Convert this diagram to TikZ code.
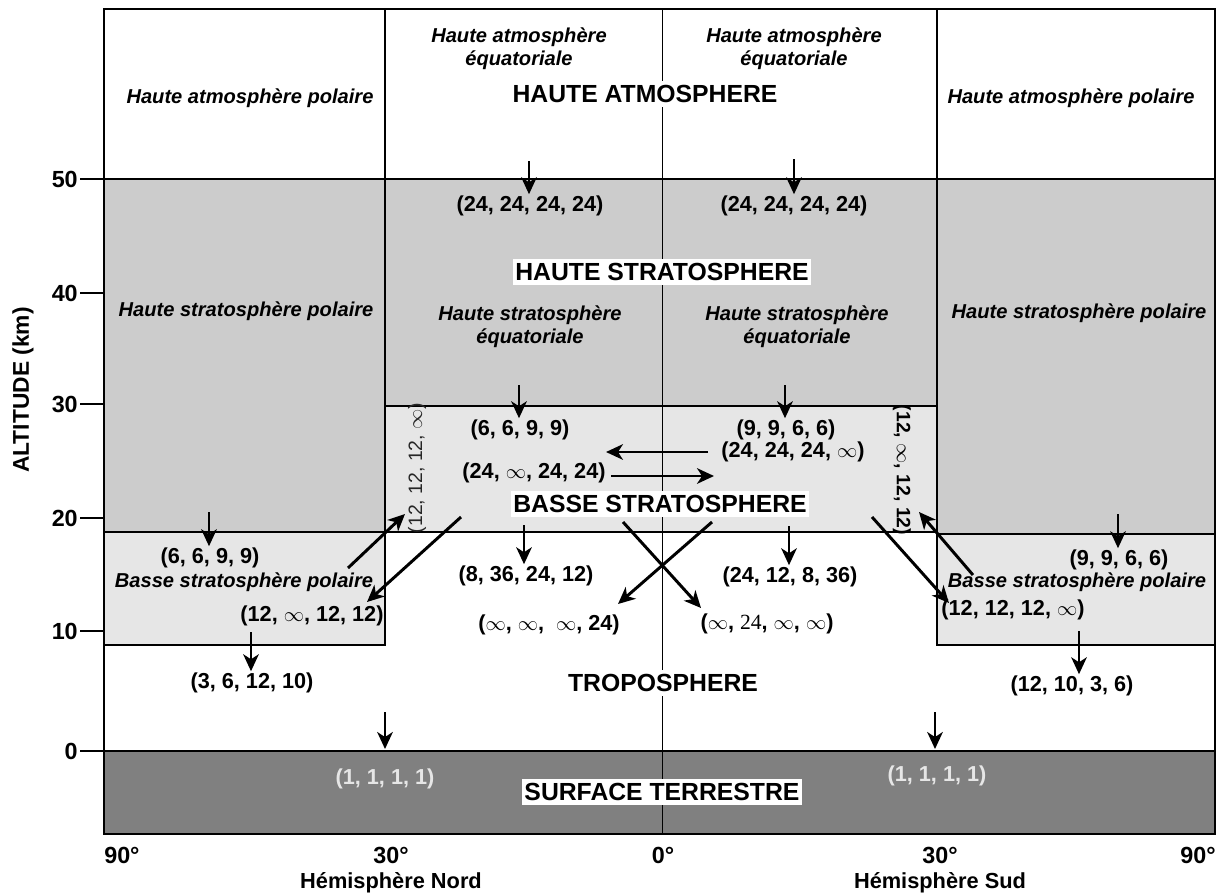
\documentclass[tikz,border=0pt]{standalone}
\usepackage{fontspec}
\setmainfont{Liberation Sans}
\newfontfamily\serifnum{Liberation Serif}
\usepackage{tikz}
\usetikzlibrary{arrows.meta, positioning}

\definecolor{hautegris}{HTML}{CCCCCC}
\definecolor{bassegris}{HTML}{E6E6E6}
\definecolor{solgris}{HTML}{808080}

\tikzstyle{zone} = [draw=black, line width=1pt]
\tikzstyle{flow} = [
    line width=2.1pt,
    -{Stealth[length=12pt, width=11pt, inset=3.5pt]}
]
\tikzstyle{value} = [font=\bfseries\fontsize{15.4}{18}\selectfont, inner sep=1pt]
\tikzstyle{sidevalue} = [font=\fontsize{13.8}{16}\selectfont, inner sep=1pt]
\tikzstyle{region} = [
    font=\bfseries\itshape\fontsize{14.3}{16.4}\selectfont,
    align=center,
    inner sep=0pt
]
\tikzstyle{layer} = [
    font=\bfseries\fontsize{17.6}{20}\selectfont,
    fill=white,
    inner xsep=1.5pt,
    inner ysep=3.2pt
]
\tikzstyle{axis} = [font=\bfseries\fontsize{16.6}{19}\selectfont, inner sep=0pt]
\tikzstyle{hemi} = [font=\bfseries\fontsize{15.5}{18}\selectfont, inner sep=0pt]

\begin{document}
\begin{tikzpicture}[x=0.025cm, y=-0.025cm]

\useasboundingbox (0,0) rectangle (1222,894);

% couches
\filldraw[zone, fill=hautegris] (104,179) rectangle (385,532);
\filldraw[zone, fill=bassegris] (104,532) rectangle (385,645);
\filldraw[zone, fill=hautegris] (385,179) rectangle (937,406);
\filldraw[zone, fill=bassegris] (385,406) rectangle (937,532);
\filldraw[zone, fill=hautegris] (937,179) rectangle (1215,534);
\filldraw[zone, fill=bassegris] (937,534) rectangle (1215,645);
\filldraw[zone, fill=solgris] (104,751) rectangle (1215,834);
\draw[zone] (385,9) -- (385,179) (937,9) -- (937,179);
\draw[line width=0.6pt] (662,9) -- (662,834);
\draw[zone] (104,9) rectangle (1215,834);

\foreach \alt/\y in {50/179, 40/293, 30/404, 20/518, 10/631, 0/751} {
    \draw[zone] (80,\y) -- (104,\y);
    \node[axis, anchor=east] (tick\alt) at (78,\y) {\alt};
}

% haute atmosphere
\node[region] (hapN) at (250,98) {Haute atmosphère polaire};
\node[region] (hapS) at (1071,98) {Haute atmosphère polaire};
\node[region] (haeN) at (519,49) {Haute atmosphère\\équatoriale};
\node[region] (haeS) at (794,49) {Haute atmosphère\\équatoriale};
\node[layer] (hatm) at (645,94) {HAUTE ATMOSPHERE};

% haute stratosphere
\node[value] (hsN) at (530,206) {(24, 24, 24, 24)};
\node[value] (hsS) at (794,206) {(24, 24, 24, 24)};
\node[layer] (hstrat) at (662,272) {HAUTE STRATOSPHERE};
\node[region] (hspN) at (246,311) {Haute stratosphère polaire};
\node[region] (hspS) at (1079,313) {Haute stratosphère polaire};
\node[region] (hseN) at (530,327) {Haute stratosphère\\équatoriale};
\node[region] (hseS) at (797,327) {Haute stratosphère\\équatoriale};

% basse stratosphere
\node[value] (bsN1) at (520,430) {(6, 6, 9, 9)};
\node[value] (bsS1) at (786,430) {(9, 9, 6, 6)};
\node[value] (bsS2) at (793,452) {(24, 24, 24, $\infty$)};
\node[value] (bsN2) at (534,473) {(24, $\infty$, 24, 24)};
\node[layer] (bstrat) at (660,504) {BASSE STRATOSPHERE};
\node[sidevalue, text=black!85, rotate=90] (bsN3) at (417,468) {(12, 12, 12, $\infty$)};
\node[sidevalue, font=\bfseries\fontsize{13.8}{16}\selectfont, rotate=-90] (bsS3) at (902,470) {(12, $\infty$, 12, 12)};

\node[value] (bpN1) at (210,558) {(6, 6, 9, 9)};
\node[region] (bpN) at (244,582) {Basse stratosphère polaire};
\node[value] (bpN2) at (312,616) {(12, $\infty$, 12, 12)};
\node[value] (bpS1) at (1119,560) {(9, 9, 6, 6)};
\node[region] (bpS) at (1077,582) {Basse stratosphère polaire};
\node[value] (bpS2) at (1013,610) {(12, 12, 12, $\infty$)};

% troposphere
\node[value] (trE1) at (526,576) {(8, 36, 24, 12)};
\node[value] (trE2) at (790,577) {(24, 12, 8, 36)};
\node[value] (trE3) at (549,625) {($\infty$, $\infty$, \ $\infty$, 24)};
\node[value] (trE4) at (767,624) {($\infty$, {\serifnum\mdseries 24}, $\infty$, $\infty$)};
\node[value] (trN) at (252,683) {(3, 6, 12, 10)};
\node[value] (trS) at (1072,686) {(12, 10, 3, 6)};
\node[layer] (tropo) at (663,683) {TROPOSPHERE};

% surface
\node[value, text=bassegris] (solN) at (385,779) {(1, 1, 1, 1)};
\node[value, text=bassegris] (solS) at (937,776) {(1, 1, 1, 1)};
\node[layer] (sol) at (662,792) {SURFACE TERRESTRE};

% axes
\node[axis, anchor=west] (lat90N) at (104,855) {90°};
\node[axis] (lat30N) at (391,855) {30°};
\node[axis] (lat0) at (663,855) {0°};
\node[axis] (lat30S) at (940,855) {30°};
\node[axis, anchor=east] (lat90S) at (1216,855) {90°};
\node[hemi, below=6pt of lat30N] (hemN) {Hémisphère Nord};
\node[hemi, below=6pt of lat30S] (hemS) {Hémisphère Sud};
\node[hemi, font=\bfseries\fontsize{16.2}{18}\selectfont, rotate=90] (alt) at (23,390) {ALTITUDE (km)};

% flux
\coordinate (aHsN) at (529,161);
\coordinate (aHsS) at (794,159);
\coordinate (aBsN) at (519,385);
\coordinate (aBsS) at (785,385);
\coordinate (aBpN) at (209,512);
\coordinate (aBpS) at (1118,514);
\coordinate (aTrN) at (251,632);
\coordinate (aTrS) at (1079,631);
\coordinate (aTrE1) at (524,525);
\coordinate (aTrE2) at (789,526);
\coordinate (aSolN) at (385,712);
\coordinate (aSolS) at (935,712);
\coordinate (solTopN) at (385,749);
\coordinate (solTopS) at (935,749);
\coordinate (hW1) at (708,452);
\coordinate (hW2) at (606,452);
\coordinate (hE1) at (611,476);
\coordinate (hE2) at (714,476);
\coordinate (dN1a) at (348,568);
\coordinate (dN1b) at (405,514);
\coordinate (dN2a) at (461,517);
\coordinate (dN2b) at (367,602);
\coordinate (dXa) at (623,522);
\coordinate (dXb) at (701,608);
\coordinate (dXc) at (712,522);
\coordinate (dXd) at (618,604);
\coordinate (dS1a) at (872,517);
\coordinate (dS1b) at (949,603);
\coordinate (dS2a) at (973,575);
\coordinate (dS2b) at (919,512);

\draw[flow] (aHsN) -- (aHsN |- hsN.north);
\draw[flow] (aHsS) -- (aHsS |- hsS.north);
\draw[flow] (aBsN) -- (aBsN |- bsN1.north);
\draw[flow] (aBsS) -- (aBsS |- bsS1.north);
\draw[flow] (aBpN) -- (aBpN |- bpN1.north);
\draw[flow] (aBpS) -- (aBpS |- bpS1.north);
\draw[flow] (aTrN) -- (aTrN |- trN.north);
\draw[flow] (aTrS) -- (aTrS |- trS.north);
\draw[flow] (aTrE1) -- (aTrE1 |- trE1.north);
\draw[flow] (aTrE2) -- (aTrE2 |- trE2.north);
\draw[flow] (aSolN) -- (solTopN);
\draw[flow] (aSolS) -- (solTopS);
\draw[flow] (hW1) -- (hW2);
\draw[flow] (hE1) -- (hE2);
\draw[flow] (dN1a) -- (dN1b);
\draw[flow] (dN2a) -- (dN2b);
\draw[flow] (dXa) -- (dXb);
\draw[flow] (dXc) -- (dXd);
\draw[flow] (dS1a) -- (dS1b);
\draw[flow] (dS2a) -- (dS2b);

\end{tikzpicture}
\end{document}
